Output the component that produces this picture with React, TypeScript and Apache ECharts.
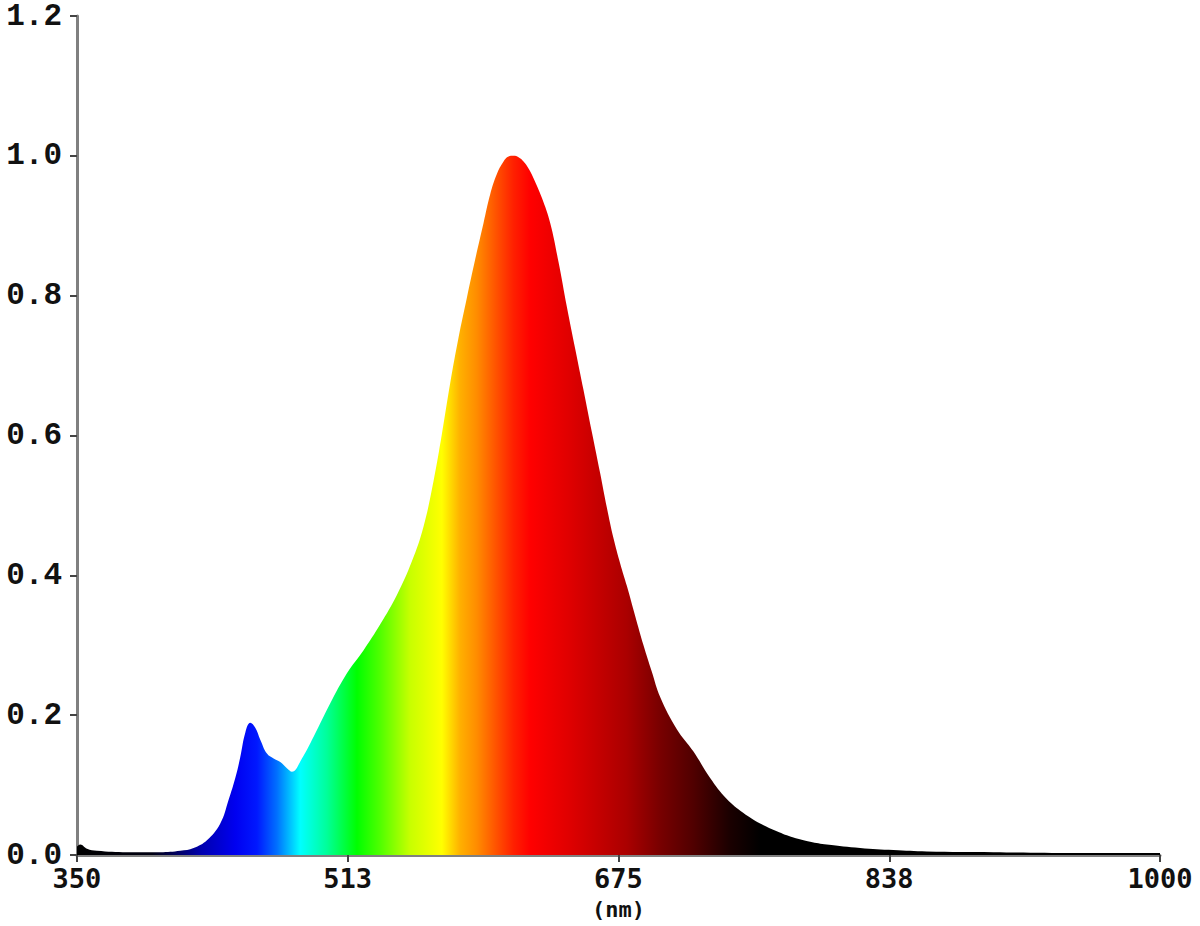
import React, { useEffect, useRef } from "react";
import * as echarts from "echarts";

const wavelengths = [
  350, 352, 356, 362, 380, 400, 412, 420, 428, 436, 441, 445, 448, 451, 454, 457, 460, 464, 468, 472, 476, 479,
  485, 492, 502, 512, 522, 532, 542, 551, 558, 564, 569, 574, 579, 584, 589, 594, 598, 602, 606, 609, 612, 615, 618,
  621, 624, 629, 634, 639, 644, 649, 654, 659, 664, 668, 672, 676, 680, 685, 690, 695, 700, 710, 720, 730, 740, 750,
  760, 770, 780, 790, 800, 820, 840, 860, 900, 950, 1000,
];
const intensity = [
  0.012, 0.015, 0.009, 0.006, 0.004, 0.004, 0.006, 0.01, 0.021, 0.045, 0.079, 0.11, 0.14, 0.175, 0.189, 0.182, 0.165,
  0.145, 0.138, 0.133, 0.124, 0.119, 0.138, 0.169, 0.217, 0.26, 0.293, 0.33, 0.372, 0.42, 0.47, 0.535, 0.602, 0.675,
  0.74, 0.797, 0.852, 0.904, 0.945, 0.974, 0.992, 0.999, 1.0, 0.998, 0.992, 0.982, 0.968, 0.94, 0.904, 0.848, 0.784,
  0.724, 0.665, 0.605, 0.546, 0.497, 0.453, 0.417, 0.385, 0.342, 0.3, 0.262, 0.226, 0.18, 0.148, 0.11, 0.08, 0.06,
  0.045, 0.034, 0.025, 0.019, 0.015, 0.01, 0.007, 0.005, 0.004, 0.003, 0.003,
];
const xTicks = [350, 512.5, 675, 837.5, 1000];
const yTicks = [0, 0.2, 0.4, 0.6, 0.8, 1.0, 1.2];

// spectrum colour stops: [wavelength, colour]
const colorStops: [number, string][] = [
  [350, "#000000"],
  [395, "#000010"],
  [425, "#0000b0"],
  [445, "#0000f0"],
  [458, "#0018ff"],
  [470, "#0070ff"],
  [484, "#00ffff"],
  [500, "#00ff99"],
  [518, "#00ff00"],
  [532, "#50ff00"],
  [550, "#c8ff00"],
  [569, "#ffff00"],
  [580, "#ffb000"],
  [590, "#ff8c00"],
  [602, "#ff5000"],
  [612, "#ff2000"],
  [622, "#ff0000"],
  [645, "#e00000"],
  [680, "#aa0000"],
  [700, "#780000"],
  [720, "#500000"],
  [742, "#1a0000"],
  [760, "#000000"],
  [1000, "#000000"],
];

export default function App() {
  const ref = useRef<HTMLDivElement>(null);
  useEffect(() => {
    document.body.style.margin = "0";
    const chart = echarts.init(ref.current!, null, { renderer: "svg" });
    const xMin = 350;
    const xMax = 1000;
    const stops = colorStops.map(([w, c]) => ({ offset: (w - xMin) / (xMax - xMin), color: c }));
    const axisColor = "#808080";
    chart.setOption({
      animation: false,
      backgroundColor: "#ffffff",
      grid: { left: 77, right: 40, top: 16, bottom: 71, containLabel: false, outerBoundsMode: "none" },
      xAxis: {
        type: "value",
        min: xMin,
        max: xMax,
        name: "(nm)",
        nameLocation: "middle",
        nameGap: 42,
        nameTextStyle: { fontFamily: "DejaVu Sans Mono", fontWeight: "bold", fontSize: 22, color: "#111", lineHeight: 24 },
        splitLine: { show: false },
        axisLine: { show: true, lineStyle: { color: axisColor, width: 3 } },
        axisTick: { show: true, length: 7, customValues: xTicks, lineStyle: { color: "#444", width: 2 } },
        axisLabel: {
          customValues: xTicks,
          margin: 10,
          fontFamily: "DejaVu Sans Mono",
          fontWeight: "bold",
          fontSize: 27,
          color: "#111",
          formatter: (v: number) => String(Math.round(v)),
        },
      },
      yAxis: {
        type: "value",
        min: 0,
        max: 1.2,
        interval: 0.2,
        splitLine: { show: false },
        axisLine: { show: true, lineStyle: { color: axisColor, width: 3 } },
        axisTick: { show: true, length: 7, lineStyle: { color: "#444", width: 2 } },
        axisLabel: {
          margin: 15,
          fontFamily: "Liberation Mono",
          fontWeight: "bold",
          fontSize: 31,
          color: "#111",
          formatter: (v: number) => {
            const t = yTicks.find((y) => Math.abs(y - v) < 1e-6);
            return (t !== undefined ? t : v).toFixed(1);
          },
        },
      },
      series: [
        {
          type: "line",
          data: wavelengths.map((w, i) => [w, intensity[i]]),
          smooth: 0.4,
          symbol: "none",
          lineStyle: { width: 0 },
          areaStyle: {
            opacity: 1,
            color: new echarts.graphic.LinearGradient(0, 0, 1, 0, stops),
          },
          z: 1,
        },
      ],
    });
    return () => chart.dispose();
  }, []);
  return <div ref={ref} style={{ width: 1200, height: 926 }} />;
}
